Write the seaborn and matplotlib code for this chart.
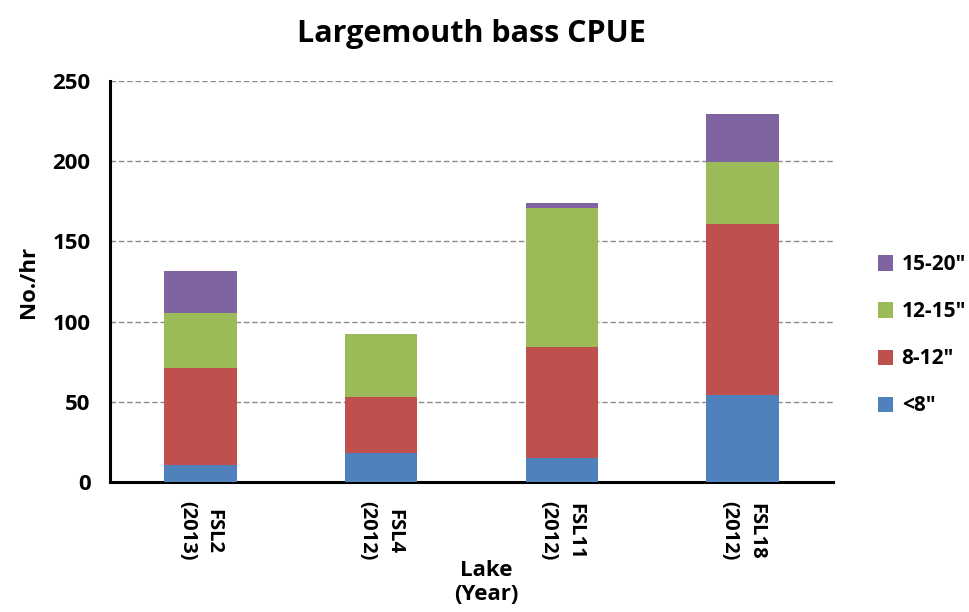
import seaborn as sns
import pandas as pd
import matplotlib.pyplot as plt
from matplotlib.patches import Patch

lakes = ['FSL2\n(2013)', 'FSL4\n(2012)', 'FSL11\n(2012)', 'FSL18\n(2012)']
size_classes = ['<8"', '8-12"', '12-15"', '15-20"']
lt8 = [10.6, 18, 15, 54]
s8_12 = [60.7, 35, 69, 106.7]
s12_15 = [34.1, 39, 87, 38.6]
s15_20 = [26.1, 0, 3, 29.9]
colors = ['#4F81BD', '#C0504D', '#9BBB59', '#8064A2']

df = pd.DataFrame({'Lake': lakes, '<8"': lt8, '8-12"': s8_12,
                   '12-15"': s12_15, '15-20"': s15_20})
cum = df[size_classes].cumsum(axis=1)
cum['Lake'] = df['Lake']

sns.set_theme(style='white')
plt.rcParams['font.family'] = ['Open Sans', 'DejaVu Sans']
plt.rcParams['font.weight'] = 'bold'
plt.rcParams['text.color'] = 'black'
plt.rcParams['axes.labelcolor'] = 'black'
plt.rcParams['xtick.color'] = 'black'
plt.rcParams['ytick.color'] = 'black'

fig = plt.figure(figsize=(9.69, 6.12), dpi=100)
ax = fig.add_axes([0.1135, 0.2124, 0.7461, 0.6552])

# stacked bars: draw the cumulative totals from top class down
for cls, col in reversed(list(zip(size_classes, colors))):
    sns.barplot(data=cum, x='Lake', y=cls, color=col, width=0.4,
                saturation=1, ax=ax, zorder=3, linewidth=0)

ax.set_ylim(0, 250)
ax.set_xlim(-0.5, 3.5)
ax.set_yticks([0, 50, 100, 150, 200, 250])
ax.yaxis.grid(True, linestyle=(0, (4, 2)), color='#8c8c8c', linewidth=1, zorder=0)
ax.set_axisbelow(True)

ax.set_xticks([-0.5, 0.5, 1.5, 2.5, 3.5])
ax.set_xticklabels([])
ax.set_xticks([0, 1, 2, 3], minor=True)
ax.set_xticklabels(lakes, minor=True, rotation=270, fontsize=14.5,
                   fontweight='bold', va='top', ha='center', linespacing=1.45)
ax.tick_params(axis='x', which='major', direction='out', length=7, width=2, color='black')
ax.tick_params(axis='x', which='minor', length=0, pad=14)
ax.tick_params(axis='y', direction='out', length=6, width=2, color='black',
               labelsize=16, pad=8)
for lbl in ax.get_yticklabels():
    lbl.set_fontweight('bold')

for side in ['top', 'right']:
    ax.spines[side].set_visible(False)
for side in ['left', 'bottom']:
    ax.spines[side].set_linewidth(2.2)
    ax.spines[side].set_color('black')

ax.set_ylabel('No./hr', fontsize=16, fontweight='bold', labelpad=10)
ax.set_xlabel('Lake\n(Year)', fontsize=16, fontweight='bold', linespacing=1.15)
ax.xaxis.label.set_va('top')
ax.xaxis.set_label_coords(0.52, -0.195)

ax.set_title('Largemouth bass CPUE', fontsize=22, fontweight='bold', pad=28)

handles = [Patch(facecolor=c, edgecolor='none') for c in reversed(colors)]
fig.legend(handles, list(reversed(size_classes)), loc='center left',
           bbox_to_anchor=(0.895, 0.452), frameon=False,
           prop={'weight': 'bold', 'size': 15}, handlelength=0.75,
           handleheight=0.75, labelspacing=1.25, handletextpad=0.4,
           borderpad=0.3, borderaxespad=0.2)

fig.savefig('out.png', dpi=100)
